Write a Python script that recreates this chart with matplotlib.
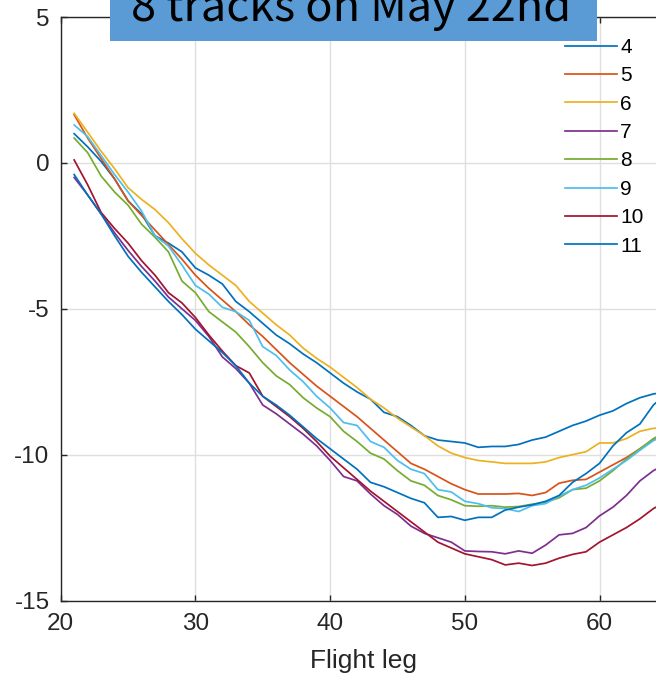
import matplotlib
matplotlib.use("Agg")
import matplotlib.pyplot as plt
from matplotlib.patches import Rectangle

# ---------------------------------------------------------------------------
# data
# ---------------------------------------------------------------------------

legs = list(range(21, 66))

track_4 = [1.0, 0.55, 0.05, -0.55, -1.3, -1.75, -2.5, -2.75, -3.05, -3.6,
           -3.85, -4.15, -4.75, -5.1, -5.5, -5.9, -6.2, -6.55, -6.85, -7.2,
           -7.55, -7.85, -8.1, -8.55, -8.7, -9.0, -9.35, -9.5, -9.55, -9.6,
           -9.75, -9.72, -9.72, -9.65, -9.5, -9.4, -9.2, -9.0, -8.85, -8.65,
           -8.5, -8.25, -8.05, -7.92, -7.85]
track_5 = [1.65, 0.85, 0.15, -0.55, -1.3, -1.8, -2.3, -2.8, -3.3, -3.85,
           -4.3, -4.7, -5.1, -5.55, -5.95, -6.4, -6.85, -7.25, -7.65, -8.0,
           -8.35, -8.7, -9.1, -9.5, -9.9, -10.3, -10.5, -10.75, -11.0, -11.2,
           -11.35, -11.35, -11.35, -11.33, -11.4, -11.3, -10.98, -10.88, -10.85, -10.6,
           -10.35, -10.1, -9.8, -9.5, -9.3]
track_6 = [1.7, 1.05, 0.4, -0.2, -0.85, -1.25, -1.6, -2.05, -2.6, -3.1,
           -3.5, -3.85, -4.2, -4.75, -5.15, -5.55, -5.9, -6.35, -6.7, -7.0,
           -7.35, -7.7, -8.1, -8.4, -8.75, -9.05, -9.35, -9.7, -9.95, -10.1,
           -10.2, -10.25, -10.3, -10.3, -10.3, -10.25, -10.1, -10.0, -9.9, -9.6,
           -9.6, -9.45, -9.2, -9.1, -9.05]
track_7 = [-0.5, -1.1, -1.75, -2.4, -3.0, -3.55, -4.05, -4.6, -5.0, -5.4,
           -5.95, -6.65, -7.05, -7.55, -8.3, -8.6, -8.95, -9.3, -9.7, -10.2,
           -10.75, -10.9, -11.35, -11.75, -12.05, -12.45, -12.7, -12.85, -13.0, -13.3,
           -13.32, -13.33, -13.4, -13.3, -13.38, -13.1, -12.75, -12.7, -12.5, -12.1,
           -11.8, -11.4, -10.9, -10.55, -10.3]
track_8 = [0.85, 0.35, -0.45, -1.0, -1.45, -2.1, -2.55, -3.05, -4.05, -4.45,
           -5.1, -5.45, -5.8, -6.3, -6.85, -7.3, -7.6, -8.05, -8.4, -8.7,
           -9.2, -9.55, -9.95, -10.15, -10.55, -10.9, -11.05, -11.4, -11.55, -11.75,
           -11.77, -11.75, -11.8, -11.78, -11.7, -11.63, -11.48, -11.2, -11.15, -10.9,
           -10.55, -10.15, -9.8, -9.45, -9.2]
track_9 = [1.3, 0.9, 0.25, -0.4, -1.0, -1.65, -2.5, -2.85, -3.5, -4.2,
           -4.5, -4.95, -5.1, -5.4, -6.3, -6.6, -7.1, -7.5, -8.0, -8.4,
           -8.9, -9.0, -9.55, -9.75, -10.2, -10.5, -10.65, -11.2, -11.28, -11.6,
           -11.68, -11.82, -11.85, -11.95, -11.75, -11.68, -11.42, -11.2, -11.05, -10.8,
           -10.5, -10.2, -9.85, -9.52, -9.3]
track_10 = [0.1, -0.75, -1.7, -2.25, -2.75, -3.35, -3.85, -4.45, -4.8, -5.3,
            -5.9, -6.45, -6.95, -7.2, -8.0, -8.35, -8.7, -9.1, -9.55, -10.05,
            -10.45, -10.85, -11.25, -11.6, -11.95, -12.3, -12.65, -13.0, -13.2, -13.4,
            -13.5, -13.6, -13.78, -13.72, -13.8, -13.72, -13.55, -13.42, -13.33, -13.0,
            -12.75, -12.5, -12.2, -11.85, -11.6]
track_11 = [-0.4, -1.1, -1.75, -2.5, -3.2, -3.75, -4.25, -4.75, -5.2, -5.7,
            -6.1, -6.5, -6.95, -7.55, -8.0, -8.3, -8.65, -9.05, -9.45, -9.8,
            -10.15, -10.5, -10.95, -11.1, -11.3, -11.5, -11.65, -12.15, -12.12, -12.25,
            -12.15, -12.15, -11.9, -11.8, -11.72, -11.6, -11.4, -10.95, -10.65, -10.3,
            -9.7, -9.25, -8.95, -8.3, -7.9]

track_labels = ["4", "5", "6", "7", "8", "9", "10", "11"]
tracks = [track_4, track_5, track_6, track_7, track_8, track_9, track_10, track_11]

x_ticks = [20, 30, 40, 50, 60]
y_ticks = [-15, -10, -5, 0, 5]

# MATLAB default colour order
colors = ["#0072BD", "#D95319", "#EDB120", "#7E2F8E",
          "#77AC30", "#4DBEEE", "#A2142F", "#0072BD"]

# ---------------------------------------------------------------------------
# figure
# ---------------------------------------------------------------------------

W, H = 656, 681
plt.rcParams["font.family"] = ["Liberation Sans", "DejaVu Sans"]
plt.rcParams["axes.unicode_minus"] = False

fig = plt.figure(figsize=(W / 100, H / 100), dpi=100)

# axes end just past the right edge of the picture (cropped screenshot)
px_per_leg = 13.47
left, top, bottom = 60.7, 17.0, 600.5
x_min, x_max = 20, 65
right = left + (x_max - x_min) * px_per_leg
ax = fig.add_axes([left / W, 1 - bottom / H,
                   (right - left) / W, (bottom - top) / H])

for label, vals, c in zip(track_labels, tracks, colors):
    ax.plot(legs, vals, color=c, linewidth=1.25, label=label)

ax.set_xlim(x_min, x_max)
ax.set_ylim(-15, 5)
ax.set_xticks(x_ticks)
ax.set_yticks(y_ticks)
ax.grid(True, color="#DFDFDF", linewidth=1.0)
ax.set_axisbelow(True)

ink = "#262626"
for s in ax.spines.values():
    s.set_color(ink)
    s.set_linewidth(1.0)
ax.tick_params(direction="in", length=4.5, width=1.0, color=ink,
               labelcolor=ink, labelsize=17.5, top=True, right=True)
ax.tick_params(axis="x", pad=9)
ax.tick_params(axis="y", pad=8)
ax.set_xlabel("Flight leg", fontsize=19, color=ink, labelpad=10)

# legend, no frame (grid shows through)
fig.legend(loc="upper left", bbox_to_anchor=(565 / W, 1 - 38 / H),
           frameon=False, fontsize=15, handlelength=2.5, handletextpad=0.15,
           labelspacing=0.45, borderpad=0, borderaxespad=0, labelcolor="black")

# blue title banner over the top of the axes
fig.add_artist(Rectangle((110 / W, 1 - 41 / H), (597 - 110) / W, 41 / H + 0.01,
                         transform=fig.transFigure, facecolor="#5B9BD5",
                         edgecolor="none", zorder=5))
fig.text(351 / W, 1 - 21 / H, "8 tracks on May 22nd",
         ha="center", va="baseline", fontsize=32.5, color="black",
         weight="light", family=["Noto Sans CJK SC", "DejaVu Sans"], zorder=6)

fig.savefig("out.png", dpi=100)
